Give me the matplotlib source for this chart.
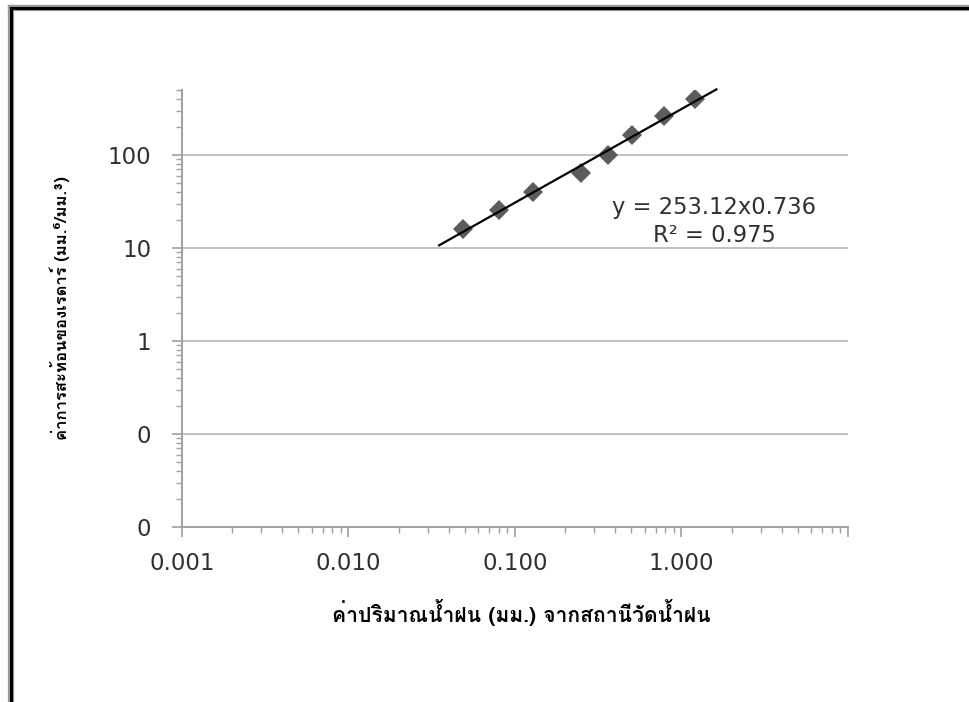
import numpy as np
import matplotlib
matplotlib.use("Agg")
import matplotlib.pyplot as plt
from matplotlib import font_manager
from matplotlib import patheffects
from matplotlib.ft2font import FT2Font
from matplotlib.lines import Line2D
from matplotlib.ticker import FixedLocator, NullFormatter

# ---------------- data ----------------
rain_mm = [0.049, 0.080, 0.129, 0.249, 0.363, 0.507, 0.785, 1.205]
reflectivity = [16.0, 25.8, 40.0, 64.0, 100.7, 165.0, 260.0, 403.0]
trend_range = [0.035, 1.62]
x_ticks = [0.001, 0.01, 0.1, 1.0, 10.0]
x_tick_labels = ["0.001", "0.010", "0.100", "1.000", ""]
y_ticks = [0.01, 0.1, 1, 10, 100]
y_tick_labels = ["0", "0", "1", "10", "100"]
equation_text = "y = 253.12x0.736"
r2_text = "R\u00b2 = 0.975"
x_label = "ค่าปริมาณน้ำฝน (มม.) จากสถานีวัดน้ำฝน"
y_label = "ค่าการสะท้อนของเรดาร์ (มม.\u2076/มม.\u00b3)"

# ---------------- find a Thai-capable font (prefer sans, bold) ----------------
thai_fonts = {}
for f in font_manager.fontManager.ttflist:
    try:
        cm = FT2Font(f.fname).get_charmap()
    except Exception:
        continue
    if 0x0E04 in cm and 0x0E32 in cm and 0x0E19 in cm:
        w = f.weight
        bold = (isinstance(w, int) and w >= 600) or (isinstance(w, str) and "bold" in w.lower())
        thai_fonts[f.name] = thai_fonts.get(f.name, False) or bold
preferred = ["Noto Sans Thai", "Noto Sans Thai UI", "Tahoma", "Leelawadee UI", "Loma",
             "Garuda", "Waree", "Umpush", "Tlwg Typo", "Sawasdee", "Noto Sans Thai Looped",
             "TH Sarabun New", "Laksaman", "Norasi", "Kinnari"]
thai_family = None
for p in preferred:
    if p in thai_fonts and thai_fonts[p]:
        thai_family = p
        break
if thai_family is None:
    for p in preferred:
        if p in thai_fonts:
            thai_family = p
            break
if thai_family is None and thai_fonts:
    thai_family = list(thai_fonts)[0]
fam = ([thai_family] if thai_family else []) + ["DejaVu Sans"]
has_bold = bool(thai_family and thai_fonts.get(thai_family))
label_fx = [] if has_bold else [patheffects.withStroke(linewidth=0.9, foreground="black")]

plt.rcParams["font.family"] = ["DejaVu Sans"]

fig = plt.figure(figsize=(9.70, 7.02), dpi=100)
ax = fig.add_axes([182 / 970, 1 - 527 / 702, (848 - 182) / 970, (527 - 90) / 702])

ax.set_xscale("log")
ax.set_yscale("log")
ax.set_xlim(0.001, 10)
ax.set_ylim(0.01, 500)

# grid
for yt in y_ticks[1:]:
    ax.axhline(yt, color="#c0c0c0", lw=1.4, zorder=1)

# data
ax.plot(rain_mm, reflectivity, linestyle="none", marker="D", markersize=10,
        color="#5c5c5c", markeredgewidth=0, zorder=3)

# power-law trend fitted in log space
b, a = np.polyfit(np.log10(rain_mm), np.log10(reflectivity), 1)
tx = np.array(trend_range)
ax.plot(tx, 10 ** (a + b * np.log10(tx)), color="black", lw=1.6, zorder=4,
        clip_on=False)

ax.text(0.799, 0.730, equation_text, transform=ax.transAxes, ha="center",
        va="center", fontsize=16.3, color="#303030")
ax.text(0.799, 0.666, r2_text, transform=ax.transAxes, ha="center",
        va="center", fontsize=16.3, color="#303030")

# axes styling
for s in ["top", "right"]:
    ax.spines[s].set_visible(False)
for s in ["left", "bottom"]:
    ax.spines[s].set_color("#a0a0a0")
    ax.spines[s].set_linewidth(1.4)

ax.xaxis.set_major_locator(FixedLocator(x_ticks))
ax.set_xticklabels(x_tick_labels)
ax.yaxis.set_major_locator(FixedLocator(y_ticks))
ax.set_yticklabels(y_tick_labels)
x_minor = [m * 10.0 ** e for e in range(-3, 1) for m in range(2, 10)]
y_minor = [m * 10.0 ** e for e in range(-2, 3) for m in range(2, 10)]
ax.xaxis.set_minor_locator(FixedLocator(x_minor))
ax.yaxis.set_minor_locator(FixedLocator([v for v in y_minor if v <= 500]))
ax.xaxis.set_minor_formatter(NullFormatter())
ax.yaxis.set_minor_formatter(NullFormatter())
ax.tick_params(axis="both", which="major", direction="out", length=7, width=1.2,
               color="#a0a0a0", labelsize=16.5, labelcolor="#303030")
ax.tick_params(axis="both", which="minor", direction="out", length=4, width=1.0,
               color="#a0a0a0")
ax.tick_params(axis="x", which="major", pad=11)
ax.tick_params(axis="y", which="major", pad=15)

fig.text(521 / 970, 1 - 612 / 702, x_label, ha="center", va="center",
         fontsize=15.2, fontweight="bold", family=fam, color="black",
         path_effects=label_fx)
fig.text(60 / 970, 1 - 308 / 702, y_label, ha="center", va="center",
         rotation=90, fontsize=12, fontweight="bold", family=fam, color="black",
         path_effects=label_fx)

# outer frame (top and left edges visible)
fig.add_artist(Line2D([11 / 970, 1.0], [1 - 8 / 702, 1 - 8 / 702],
                      transform=fig.transFigure, color="#9a9a9a", lw=4.5))
fig.add_artist(Line2D([11 / 970, 11 / 970], [0.0, 1 - 8 / 702],
                      transform=fig.transFigure, color="#9a9a9a", lw=4.5))
fig.add_artist(Line2D([11 / 970, 1.0], [1 - 8 / 702, 1 - 8 / 702],
                      transform=fig.transFigure, color="black", lw=2.2,
                      solid_capstyle="projecting"))
fig.add_artist(Line2D([11 / 970, 11 / 970], [0.0, 1 - 8 / 702],
                      transform=fig.transFigure, color="black", lw=2.2,
                      solid_capstyle="projecting"))

fig.savefig("out.png", dpi=100, facecolor="white")
